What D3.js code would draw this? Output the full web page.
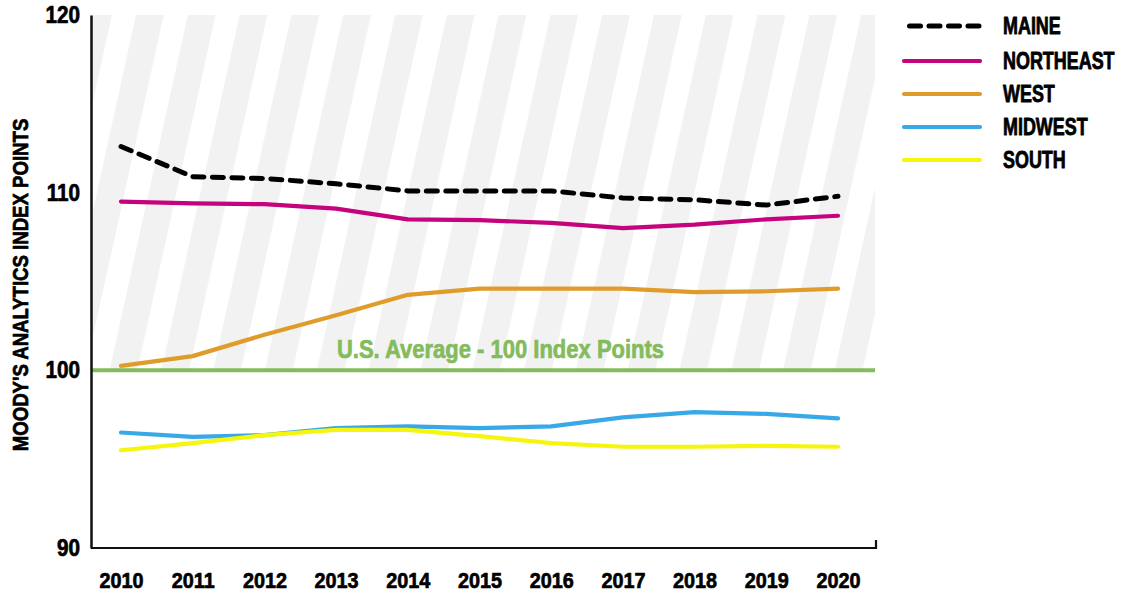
<!DOCTYPE html>
<html>
<head>
<meta charset="utf-8">
<script src="https://cdn.jsdelivr.net/npm/d3@7"></script>
<style>
  html, body { margin: 0; padding: 0; background: #fff; }
  svg { display: block; }
  text { font-family: 'Liberation Sans', Arial, sans-serif; font-weight: bold; }
</style>
</head>
<body>
<svg id="chart" width="1128" height="593"></svg>
<script>
// Cost-of-living index, 2010-2020 (Moody's Analytics, U.S. = 100)
const years = [2010, 2011, 2012, 2013, 2014, 2015, 2016, 2017, 2018, 2019, 2020];
const maine     = [112.6, 110.9, 110.8, 110.5, 110.1, 110.1, 110.1, 109.7, 109.6, 109.3, 109.8];
const northeast = [109.5, 109.4, 109.35, 109.1, 108.5, 108.45, 108.3, 108.0, 108.2, 108.5, 108.7];
const west      = [100.25, 100.8, 102.0, 103.1, 104.25, 104.6, 104.6, 104.6, 104.4, 104.45, 104.6];
const midwest   = [96.5, 96.25, 96.35, 96.75, 96.85, 96.75, 96.85, 97.35, 97.65, 97.55, 97.3];
const south     = [95.5, 95.9, 96.35, 96.65, 96.65, 96.3, 95.9, 95.7, 95.7, 95.75, 95.7];
const yTicks = [90, 100, 110, 120];
const usAverage = 100;
const seriesNames = ["MAINE", "NORTHEAST", "WEST", "MIDWEST", "SOUTH"];

const colors = {
  MAINE: "#000000",
  NORTHEAST: "#c4037c",
  WEST: "#e09c2b",
  MIDWEST: "#38a8e6",
  SOUTH: "#f5f50d"
};
const green = "#84bb5c";

const series = [
  { name: "MAINE", values: maine },
  { name: "NORTHEAST", values: northeast },
  { name: "WEST", values: west },
  { name: "MIDWEST", values: midwest },
  { name: "SOUTH", values: south }
];

const svg = d3.select("#chart");
const plot = { left: 91, right: 875, top: 15, bottom: 548 };

const x = d3.scaleLinear().domain([2010, 2020]).range([121, 838]);
const y = d3.scaleLinear().domain([90, 120]).range([plot.bottom, plot.top]);

// Heavy condensed lettering: squeeze bold glyphs and thicken them with a thin outline
function condense(sel, factor, weight = 0.7) {
  sel.each(function () {
    const node = d3.select(this);
    const w = this.getComputedTextLength();
    node.attr("textLength", w * factor).attr("lengthAdjust", "spacingAndGlyphs")
      .attr("stroke", node.attr("fill")).attr("stroke-width", weight)
      .attr("stroke-linejoin", "round");
  });
}

// Striped band above the U.S. average
const bandTop = y(120), bandBottom = y(usAverage);
const defs = svg.append("defs");
defs.append("clipPath").attr("id", "bandClip")
  .append("rect")
  .attr("x", plot.left).attr("y", bandTop)
  .attr("width", plot.right - plot.left).attr("height", bandBottom - bandTop);

const period = 51.8, stripeW = 27.7, lean = 0.22, phase = 136;
const h = bandBottom - bandTop;
const stripeStarts = d3.range(-4, 20).map(k => phase + k * period);
svg.append("g").attr("clip-path", "url(#bandClip)")
  .selectAll("polygon").data(stripeStarts).join("polygon")
  .attr("fill", "#f2f2f2")
  .attr("points", s => [
    [s, bandTop], [s + stripeW, bandTop],
    [s + stripeW - lean * h, bandBottom], [s - lean * h, bandBottom]
  ].map(p => p.join(",")).join(" "));

// U.S. average reference line and label
svg.append("line")
  .attr("x1", plot.left).attr("x2", plot.right)
  .attr("y1", y(usAverage)).attr("y2", y(usAverage))
  .attr("stroke", green).attr("stroke-width", 4);
svg.append("text")
  .attr("x", 500.5).attr("y", y(usAverage) - 12.5)
  .attr("text-anchor", "middle")
  .attr("fill", green).attr("font-size", 26)
  .text("U.S. Average - 100 Index Points")
  .call(condense, 0.846);

// Axes
const yAxis = d3.axisLeft(y).tickValues(yTicks).tickSize(0).tickPadding(11).tickFormat(d3.format("d"));
const gy = svg.append("g").attr("transform", `translate(${plot.left},0)`).call(yAxis);
gy.select(".domain").attr("stroke", "#111").attr("stroke-width", 2.5);
gy.selectAll("text").attr("font-size", 23.5).attr("fill", "#000")
  .attr("font-family", "'Liberation Sans', Arial, sans-serif")
  .attr("font-weight", "bold")
  .call(condense, 0.88);

const xAxis = d3.axisBottom(x).tickValues(years).tickSize(0).tickPadding(24).tickFormat(d3.format("d"));
const gx = svg.append("g").attr("transform", `translate(0,${plot.bottom})`).call(xAxis);
gx.select(".domain").remove();
gx.selectAll("text").attr("font-size", 22.5).attr("fill", "#000")
  .attr("font-family", "'Liberation Sans', Arial, sans-serif")
  .attr("font-weight", "bold")
  .call(condense, 0.88);
svg.append("path")
  .attr("d", `M${plot.left},${plot.bottom}H${plot.right + 1}V${plot.bottom - 8}`)
  .attr("fill", "none").attr("stroke", "#111").attr("stroke-width", 2.2);

// Y-axis title
svg.append("text")
  .attr("transform", `translate(28,285) rotate(-90)`)
  .attr("text-anchor", "middle")
  .attr("font-size", 22).attr("fill", "#000")
  .text("MOODY'S ANALYTICS INDEX POINTS")
  .call(condense, 0.845);

// Series lines
const line = d3.line().x((d, i) => x(years[i])).y(d => y(d));
const drawOrder = ["NORTHEAST", "WEST", "MIDWEST", "SOUTH", "MAINE"];
svg.append("g").selectAll("path")
  .data(drawOrder.map(n => series.find(s => s.name === n)))
  .join("path")
  .attr("d", d => line(d.values))
  .attr("fill", "none")
  .attr("stroke", d => colors[d.name])
  .attr("stroke-width", d => d.name === "MAINE" ? 5 : 4.2)
  .attr("stroke-linecap", "round")
  .attr("stroke-linejoin", "round")
  .attr("stroke-dasharray", d => d.name === "MAINE" ? "11,8.5" : null);

// Legend
const legend = svg.append("g");
const rowY = [26, 61, 94, 127, 160];
const rows = legend.selectAll("g").data(seriesNames).join("g")
  .attr("transform", (d, i) => `translate(0,${rowY[i]})`);
rows.append("line")
  .attr("x1", 904).attr("x2", 980).attr("y1", 0).attr("y2", 0)
  .attr("stroke", d => colors[d])
  .attr("stroke-width", d => d === "MAINE" ? 5 : 4.2)
  .attr("stroke-linecap", "round")
  .attr("stroke-dasharray", d => d === "MAINE" ? "11,8.5" : null)
  .attr("stroke-dashoffset", d => d === "MAINE" ? 14 : null);
rows.append("g")
  .attr("transform", "translate(1003,0) scale(0.78,1)")
  .append("text")
  .attr("x", 0).attr("y", 0).attr("dy", "0.36em")
  .attr("font-size", 23).attr("fill", "#000")
  .attr("stroke", "#000").attr("stroke-width", 0.8).attr("stroke-linejoin", "round")
  .text(d => d);
</script>
</body>
</html>
